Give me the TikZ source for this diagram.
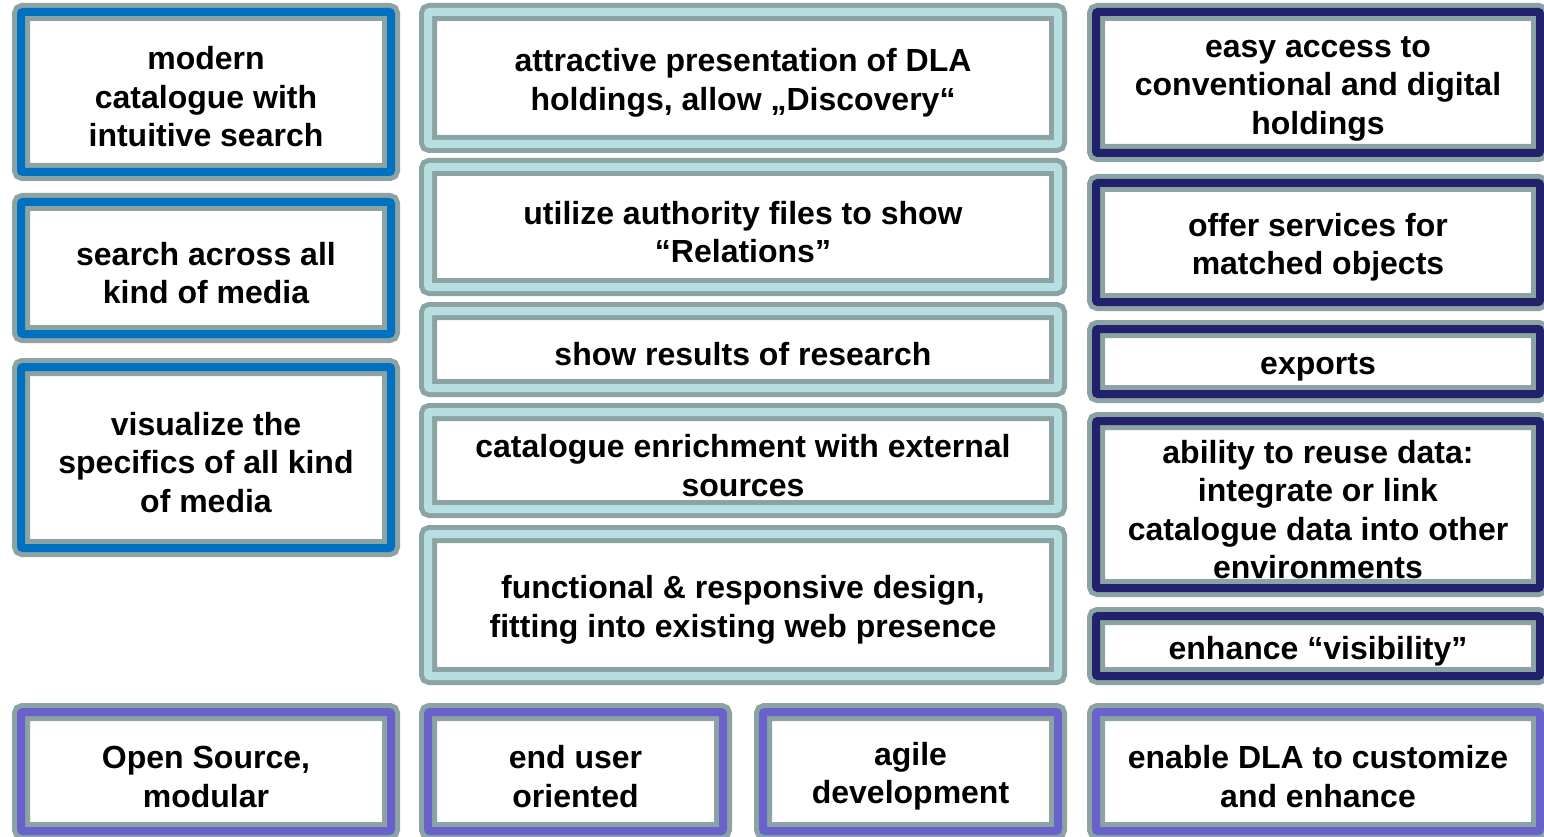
\documentclass[tikz,border=0pt]{standalone}
\usepackage{fontspec}
\setmainfont{Liberation Sans}
\usepackage{tikz}
\definecolor{cardgrey}{RGB}{139,163,163}
\definecolor{catblue}{RGB}{0,112,192}
\definecolor{cattea}{RGB}{183,222,225}
\definecolor{catnavy}{RGB}{34,34,108}
\definecolor{catviolet}{RGB}{106,98,204}
\newcommand\cardfont{\fontsize{32}{38.5}\selectfont\bfseries}
% taller first line pushes the text a little down in its card
\newcommand\cs{\rule{0pt}{33pt}}

\begin{document}
\begin{tikzpicture}[x=1pt,y=-1pt,
  card/.style={draw=cardgrey,line width=5pt,double=#1,double distance=8pt,
    fill=white,rounded corners=2pt,align=center,inner sep=0pt,font=\cardfont}]
\clip (0,0) rectangle (1544,837);
% left column
\node[card=catblue,minimum width=370pt,minimum height=160pt] (modern) at (206,92)
  {\cs modern\\catalogue with\\intuitive search};
\node[card=catblue,minimum width=370pt,minimum height=132pt] (media) at (206,268)
  {\cs search across all\\kind of media};
\node[card=catblue,minimum width=370pt,minimum height=181pt] (visual) at (206,457.5)
  {\cs visualize the\\specifics of all kind\\of media};
% middle column
\node[card=cattea,minimum width=630pt,minimum height=132pt] (discovery) at (743,78)
  {\cs attractive presentation of DLA\\holdings, allow „Discovery“};
\node[card=cattea,minimum width=630pt,minimum height=120pt] (relations) at (743,227)
  {\cs utilize authority files to show\\“Relations”};
\node[card=cattea,minimum width=630pt,minimum height=77pt] (research) at (743,349.5)
  {\cs show results of research};
\node[card=cattea,minimum width=630pt,minimum height=97pt] (enrich) at (743,460.5)
  {\cs catalogue enrichment with external\\sources};
\node[card=cattea,minimum width=630pt,minimum height=142pt] (design) at (743,605)
  {\cs functional \& responsive design,\\fitting into existing web presence};
% right column
\node[card=catnavy,minimum width=444pt,minimum height=141pt] (access) at (1318,82.5)
  {\cs easy access to\\conventional and digital\\holdings};
\node[card=catnavy,minimum width=444pt,minimum height=119pt] (services) at (1318,242.5)
  {\cs offer services for\\matched objects};
\node[card=catnavy,minimum width=444pt,minimum height=65pt] (exports) at (1318,361.5)
  {\cs exports};
\node[card=catnavy,minimum width=444pt,minimum height=167pt] (reuse) at (1318,504.5)
  {\cs ability to reuse data:\\integrate or link\\catalogue data into other\\environments};
\node[card=catnavy,minimum width=444pt,minimum height=60pt] (visible) at (1318,646)
  {\cs enhance “visibility”};
% bottom row
\node[card=catviolet,minimum width=370pt,minimum height=119pt] (opensrc) at (206,771.5)
  {\cs Open Source,\\modular};
\node[card=catviolet,minimum width=295pt,minimum height=119pt] (enduser) at (575.5,771.5)
  {\cs end user\\oriented};
\node[card=catviolet,minimum width=295pt,minimum height=119pt] (agile) at (910.5,771.5)
  {\cs agile\\development};
\node[card=catviolet,minimum width=444pt,minimum height=119pt] (custom) at (1318,771.5)
  {\cs enable DLA to customize\\and enhance};
\end{tikzpicture}
\end{document}
